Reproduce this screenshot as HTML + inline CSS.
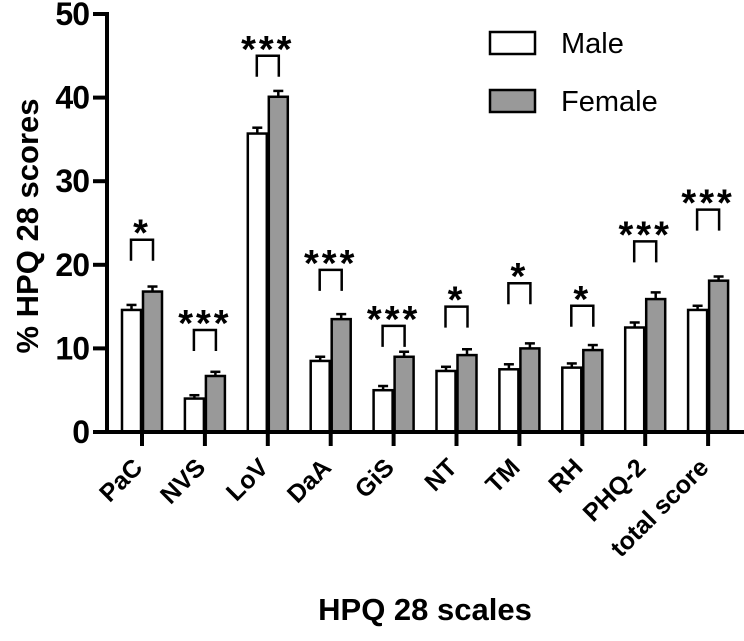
<!DOCTYPE html>
<html><head><meta charset="utf-8">
<style>
html,body{margin:0;padding:0;background:#fff;}
svg{display:block;font-family:"Liberation Sans",Arial,sans-serif;}
</style></head>
<body>
<svg id="chart" width="744" height="641" viewBox="0 0 744 641"></svg>
<script>
const categories = ["PaC","NVS","LoV","DaA","GiS","NT","TM","RH","PHQ-2","total score"];
const maleValues = [14.6,4.0,35.7,8.5,5.0,7.3,7.5,7.7,12.5,14.6];
const femaleValues = [16.8,6.7,40.1,13.5,9.0,9.2,10.0,9.8,15.9,18.1];
const maleErrors = [0.6,0.4,0.7,0.5,0.5,0.5,0.6,0.5,0.6,0.5];
const femaleErrors = [0.6,0.5,0.7,0.6,0.6,0.7,0.6,0.6,0.8,0.5];
const sigLevels = ["*","***","***","***","***","*","*","*","***","***"];
const sigHeights = [23.0,12.2,45.0,19.4,12.7,15.0,17.8,15.1,22.8,26.6];
const yTicks = [0,10,20,30,40,50];

const NS="http://www.w3.org/2000/svg";
const svg=document.getElementById('chart');
const y0=432, pxPerUnit=8.36, x0=142, step=62.9, barW=21;
const yScale=v=>y0-v*pxPerUnit;
const xScale=i=>x0+i*step;
function mk(tag,attrs,parent){const e=document.createElementNS(NS,tag);for(const k in attrs)e.setAttribute(k,attrs[k]);(parent||svg).appendChild(e);return e;}

const yAxis=mk('g',{});


mk('line',{x1:107,y1:yScale(50)-2,x2:107,y2:y0+2,stroke:'#000','stroke-width':4},yAxis);
yTicks.forEach(t=>{
  mk('line',{x1:93,y1:yScale(t),x2:107,y2:yScale(t),stroke:'#000','stroke-width':4},yAxis);
  const tx=mk('text',{x:89,y:yScale(t)+11,'text-anchor':'end','font-size':32,'font-weight':'bold','letter-spacing':'-1'},yAxis);
  
  
  tx.textContent=t;
});
const yt=mk('text',{x:0,y:0,transform:'translate(38,226) rotate(-90)','text-anchor':'middle','font-size':31,'font-weight':'bold'});


yt.textContent='% HPQ 28 scores';

categories.forEach((c,i)=>{
  const cx=xScale(i);
  const g=mk('g',{});
  
  
  [[maleValues[i],maleErrors[i],cx-barW,'#fff','male'],[femaleValues[i],femaleErrors[i],cx,'#999','female']].forEach(([v,e,x,fill,s])=>{
    const top=yScale(v);
    const b=mk('rect',{x:x+1,y:top,width:barW-2,height:y0-top,fill:fill,stroke:'#000','stroke-width':2.5},g);
    
    
    const et=yScale(v+e), mid=x+barW/2;
    mk('line',{x1:mid,y1:top,x2:mid,y2:et,stroke:'#000','stroke-width':2.5},g);
    mk('line',{x1:mid-5,y1:et,x2:mid+5,y2:et,stroke:'#000','stroke-width':2.5},g);
  });
  const by=yScale(sigHeights[i]);
  const br=mk('path',{d:`M${cx-11},${by+21} V${by} H${cx+11} V${by+21}`,fill:'none',stroke:'#000','stroke-width':2.5},g);
  
  
  const st=mk('text',{x:cx,y:by+6,'text-anchor':'middle','font-size':38,'font-weight':'bold','letter-spacing':'3'},g);
  
  
  st.textContent=sigLevels[i];
  mk('line',{x1:cx,y1:y0,x2:cx,y2:y0+14,stroke:'#000','stroke-width':4});
  const lt=mk('text',{x:0,y:0,transform:`translate(${cx+2},${y0+37}) rotate(-45)`,'text-anchor':'end','font-size':25,'font-weight':'bold'});
  
  
  lt.textContent=c;
});
const xa=mk('line',{x1:105,y1:y0,x2:744,y2:y0,stroke:'#000','stroke-width':4});


const xt=mk('text',{x:425,y:620,'text-anchor':'middle','font-size':31,'font-weight':'bold'});


xt.textContent='HPQ 28 scales';

[['Male','#fff',43],['Female','#999',101]].forEach(([n,f,y])=>{
  const lg=mk('g',{});
  
  
  mk('rect',{x:490,y:y-11,width:45,height:22,fill:f,stroke:'#000','stroke-width':2.5},lg);
  const t=mk('text',{x:561,y:y+10,'font-size':29},lg);
  t.textContent=n;
});
</script>
</body></html>
